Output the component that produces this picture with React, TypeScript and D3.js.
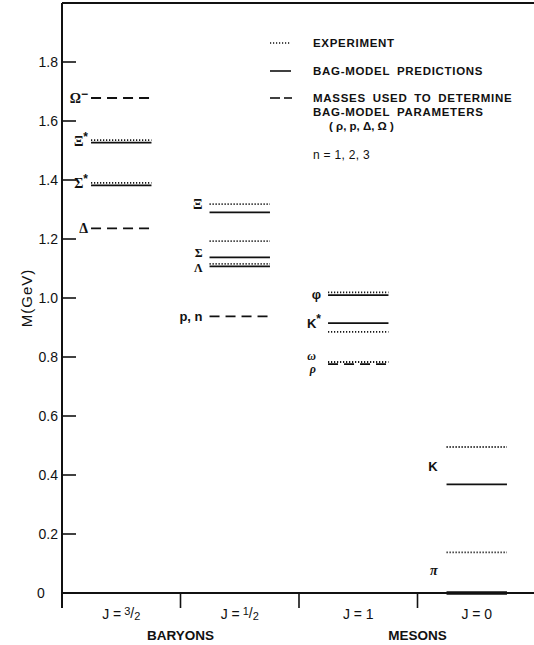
import React from "react";
import * as d3 from "d3";

// ---- data ----
const categories = ["3/2", "1/2", "1", "0"];
const groupNames = ["BARYONS", "MESONS"];
const groupFirstCats = ["3/2", "1"];
const groupLastCats = ["1/2", "0"];
const yTicks = [0, 0.2, 0.4, 0.6, 0.8, 1.0, 1.2, 1.4, 1.6, 1.8];

// experiment (dotted)
const experimentCats = ["3/2", "3/2", "1/2", "1/2", "1/2", "1", "1", "1", "0", "0"];
const experimentMasses = [1.535, 1.39, 1.318, 1.193, 1.116, 1.019, 0.885, 0.783, 0.495, 0.138];

// bag-model predictions (solid)
const bagCats = ["3/2", "3/2", "1/2", "1/2", "1/2", "1", "1", "0", "0"];
const bagMasses = [1.527, 1.382, 1.29, 1.138, 1.107, 1.01, 0.915, 0.368, 0.0];

// masses used to determine parameters (dashed)
const fitCats = ["3/2", "3/2", "1/2", "1"];
const fitMasses = [1.678, 1.236, 0.938, 0.776];

// particle labels
const labelTexts = ["Ω", "Ξ", "Σ", "Δ", "Ξ", "Σ", "Λ", "p, n", "φ", "K", "ω", "ρ", "K", "π"];
const labelSups = ["−", "*", "*", "", "", "", "", "", "", "*", "", "", "", ""];
const labelCats = ["3/2", "3/2", "3/2", "3/2", "1/2", "1/2", "1/2", "1/2", "1", "1", "1", "1", "0", "0"];
const labelMasses = [1.678, 1.532, 1.39, 1.236, 1.318, 1.155, 1.103, 0.938, 1.012, 0.915, 0.806, 0.76, 0.43, 0.078];
const labelKinds = ["serif", "serif", "serif", "serif", "serif", "serifS", "serifS", "sans", "sans", "sans", "italS", "italS", "sans", "ital"];

// legend
const legendKinds = ["dotted", "solid", "dashed"];
const legendLines = [
  ["EXPERIMENT"],
  ["BAG-MODEL PREDICTIONS"],
  ["MASSES USED TO DETERMINE", "BAG-MODEL PARAMETERS"],
];
const legendParams = "( ρ, p, Δ, Ω )";
const legendNote = "n = 1, 2, 3";

const SANS = "'Liberation Sans', Arial, sans-serif";
const SERIF = "'Liberation Serif', 'DejaVu Serif', serif";
const INK = "#111";

function dashFor(kind: string) {
  if (kind === "dotted") return "1.2 1.8";
  if (kind === "dashed") return "10 6";
  return undefined;
}

function CatLabel({ c, x, y }: { c: string; x: number; y: number }) {
  const parts = c.split("/");
  if (parts.length === 2) {
    return (
      <text x={x} y={y} textAnchor="middle" fontFamily={SANS} fontSize={14} fill={INK}>
        J =
        <tspan dx={3} dy={-4} fontSize={11}>{parts[0]}</tspan>
        <tspan dy={3} fontSize={14}>/</tspan>
        <tspan dy={2} fontSize={11}>{parts[1]}</tspan>
      </text>
    );
  }
  return (
    <text x={x} y={y} textAnchor="middle" fontFamily={SANS} fontSize={14} fill={INK}>
      {"J = " + c}
    </text>
  );
}

export default function App() {
  const x = d3.scaleBand<string>().domain(categories).range([62, 536]).padding(0);
  const y = d3.scaleLinear().domain([0, 2]).range([593, 3]);
  const bw = x.bandwidth();
  const lx0 = (c: string) => (x(c) as number) + bw * 0.245;
  const lx1 = (c: string) => (x(c) as number) + bw * 0.755;
  const fmt = (v: number) => (v === 0 ? "0" : d3.format(".1f")(v));

  const levels: { c: string; m: number; kind: string }[] = [];
  experimentCats.forEach((c, i) => levels.push({ c, m: experimentMasses[i], kind: "dotted" }));
  bagCats.forEach((c, i) => levels.push({ c, m: bagMasses[i], kind: "solid" }));
  fitCats.forEach((c, i) => levels.push({ c, m: fitMasses[i], kind: "dashed" }));

  const labelGap = (c: string, kind: string) => {
    if (c === "0") return 9;
    if (c === "3/2") return 3;
    if (kind === "italS") return 12;
    return 7;
  };

  return (
    <svg
      width={534}
      height={645}
      style={{ position: "absolute", left: 0, top: 0, display: "block", background: "#fff" }}
    >
      {/* frame */}
      <line x1={62} x2={534} y1={3} y2={3} stroke={INK} strokeWidth={2} />
      <line x1={62} x2={62} y1={3} y2={608} stroke={INK} strokeWidth={2} />
      <line x1={62} x2={534} y1={593} y2={593} stroke={INK} strokeWidth={2} />

      {/* y ticks */}
      {yTicks.map((t) => (
        <g key={"yt" + t}>
          <line x1={62} x2={76} y1={y(t)} y2={y(t)} stroke={INK} strokeWidth={1.6} />
          <text
            x={t === 0 ? 37 : 58}
            y={y(t)}
            dy="0.35em"
            textAnchor={t === 0 ? "start" : "end"}
            fontFamily={SANS}
            fontSize={14}
            fill={INK}
          >
            {fmt(t)}
          </text>
        </g>
      ))}
      <text
        transform={`translate(32, ${y(1.0)}) rotate(-90)`}
        textAnchor="middle"
        fontFamily={SANS}
        fontSize={15}
        letterSpacing={1}
        fill={INK}
      >
        M(GeV)
      </text>

      {/* x ticks (category boundaries) */}
      {categories.slice(1).map((c) => (
        <line key={"xt" + c} x1={x(c)} x2={x(c)} y1={593} y2={608} stroke={INK} strokeWidth={1.6} />
      ))}
      {categories.map((c) => (
        <CatLabel key={"cl" + c} c={c} x={(x(c) as number) + bw / 2} y={619} />
      ))}
      {groupNames.map((g, i) => {
        const cx = ((x(groupFirstCats[i]) as number) + (x(groupLastCats[i]) as number) + bw) / 2;
        return (
          <text key={g} x={cx} y={640} textAnchor="middle" fontFamily={SANS} fontSize={13.5} fontWeight="bold" fill={INK}>
            {g}
          </text>
        );
      })}

      {/* levels */}
      {levels.map((d, i) => (
        <line
          key={"lv" + i}
          x1={lx0(d.c)}
          x2={lx1(d.c)}
          y1={y(d.m)}
          y2={y(d.m)}
          stroke={INK}
          strokeWidth={d.kind === "solid" ? (d.m === 0 ? 3.5 : 1.7) : 1.8}
          strokeDasharray={dashFor(d.kind)}
        />
      ))}

      {/* particle labels */}
      {labelTexts.map((t, i) => {
        const kind = labelKinds[i];
        const c = labelCats[i];
        const family = kind === "sans" ? SANS : SERIF;
        const size = kind === "serifS" || kind === "italS" ? 12 : kind === "sans" ? 13 : 14;
        const sup = labelSups[i];
        return (
          <text
            key={"lb" + i}
            x={lx0(c) - labelGap(c, kind)}
            y={y(labelMasses[i])}
            dy="0.36em"
            textAnchor="end"
            fontFamily={family}
            fontSize={size}
            fontWeight="bold"
            fontStyle={kind === "ital" || kind === "italS" ? "italic" : "normal"}
            fill={INK}
          >
            {t}
            {sup ? (
              <tspan dy={-5} fontSize={12} fontFamily={SANS}>
                {sup}
              </tspan>
            ) : null}
          </text>
        );
      })}

      {/* legend */}
      {legendKinds.map((k, i) => {
        const ly = [43, 71, 98][i];
        return (
          <g key={"lg" + k}>
            {k === "dashed" ? (
              <>
                <line x1={270} x2={280} y1={ly} y2={ly} stroke={INK} strokeWidth={1.6} />
                <line x1={284} x2={292} y1={ly} y2={ly} stroke={INK} strokeWidth={1.6} />
              </>
            ) : (
              <line x1={270} x2={291} y1={ly} y2={ly} stroke={INK} strokeWidth={1.6} strokeDasharray={dashFor(k)} />
            )}
            {legendLines[i].map((s, j) => (
              <text
                key={s}
                x={313}
                y={ly + 4 + j * 14}
                fontFamily={SANS}
                fontSize={11.5}
                fontWeight="bold"
                letterSpacing={0.7}
                wordSpacing={3}
                fill={INK}
              >
                {s}
              </text>
            ))}
          </g>
        );
      })}
      <text x={329} y={130} fontFamily={SANS} fontSize={11.5} fontWeight="bold" fill={INK}>
        {legendParams}
      </text>
      <text x={313} y={159} fontFamily={SANS} fontSize={12} fill={INK} letterSpacing={0.3}>
        {legendNote}
      </text>
    </svg>
  );
}
